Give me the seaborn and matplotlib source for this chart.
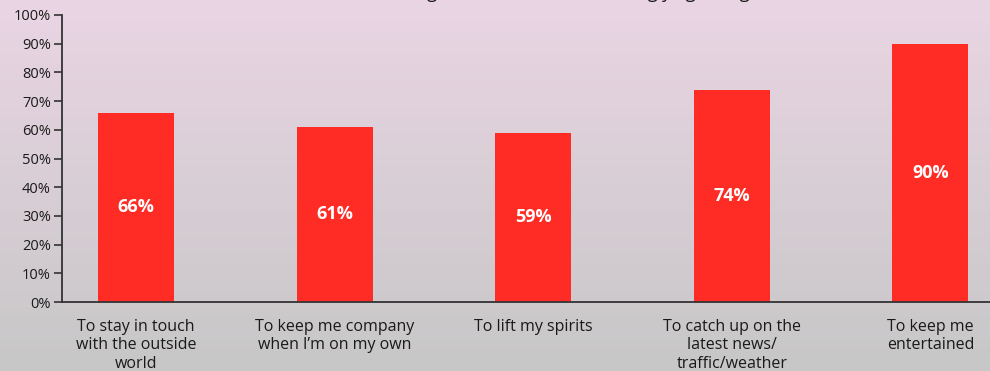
import numpy as np
import pandas as pd
import matplotlib
matplotlib.use("Agg")
import matplotlib.pyplot as plt
import seaborn as sns
from matplotlib.colors import LinearSegmentedColormap

categories = [
    "To stay in touch\nwith the outside\nworld",
    "To keep me company\nwhen I\u2019m on my own",
    "To lift my spirits",
    "To catch up on the\nlatest news/\ntraffic/weather",
    "To keep me\nentertained",
]
values = [66, 61, 59, 74, 90]
value_labels = ["66%", "61%", "59%", "74%", "90%"]
y_ticks = [0, 10, 20, 30, 40, 50, 60, 70, 80, 90, 100]
y_tick_labels = [f"{t}%" for t in y_ticks]
title = "Reasons for listening: % of listeners who strongly agree/agree"

sns.set_theme(style="white")
plt.rcParams["font.family"] = ["Open Sans", "DejaVu Sans"]

df = pd.DataFrame({"reason": categories, "pct": values})

fig = plt.figure(figsize=(9.9, 3.71), dpi=100)

# soft pink-to-grey vertical gradient behind everything
bg = fig.add_axes([0, 0, 1, 1], zorder=-10)
grad = np.linspace(0, 1, 256).reshape(-1, 1)
cmap = LinearSegmentedColormap.from_list("bg", ["#ead5e4", "#c7c7c7"])
bg.imshow(grad, aspect="auto", cmap=cmap, extent=[0, 1, 0, 1], origin="upper")
bg.set_axis_off()

ax = fig.add_axes([62 / 990, 1 - 302 / 371, (990 - 62) / 990, 287 / 371])
ax.patch.set_alpha(0)

sns.barplot(data=df, x="reason", y="pct", color="#ff2b25", width=0.383,
            saturation=1, linewidth=0, edgecolor="none", ax=ax)

ax.set_ylim(0, 100)
ax.set_xlim(-0.373, 4.30)
ax.set_yticks(y_ticks)
ax.set_yticklabels(y_tick_labels, fontsize=10.5, color="#1a1a1a")
ax.set_xticklabels(categories, fontsize=11.5, color="#1a1a1a", linespacing=1.22)
ax.set_xlabel("")
ax.set_ylabel("")

for s in ["top", "right"]:
    ax.spines[s].set_visible(False)
for s in ["left", "bottom"]:
    ax.spines[s].set_color("#333333")
    ax.spines[s].set_linewidth(1.3)

ax.tick_params(axis="y", which="both", left=True, length=6, width=1.2,
               color="#333333", pad=2)
ax.tick_params(axis="x", which="both", bottom=False, length=0, pad=12)
for lbl in ax.get_xticklabels():
    lbl.set_verticalalignment("top")

for bar, txt in zip(ax.patches, value_labels):
    ax.text(bar.get_x() + bar.get_width() / 2, bar.get_height() / 2, txt,
            ha="center", va="center", color="white", fontsize=13,
            fontweight="bold")

# the heading sits mostly above the top edge; only its descenders show
fig.text(0.525, 1 + 2 / 371, title, ha="center", va="baseline",
         fontsize=13, color="#1a1a1a")

fig.savefig("out.png", dpi=100)
